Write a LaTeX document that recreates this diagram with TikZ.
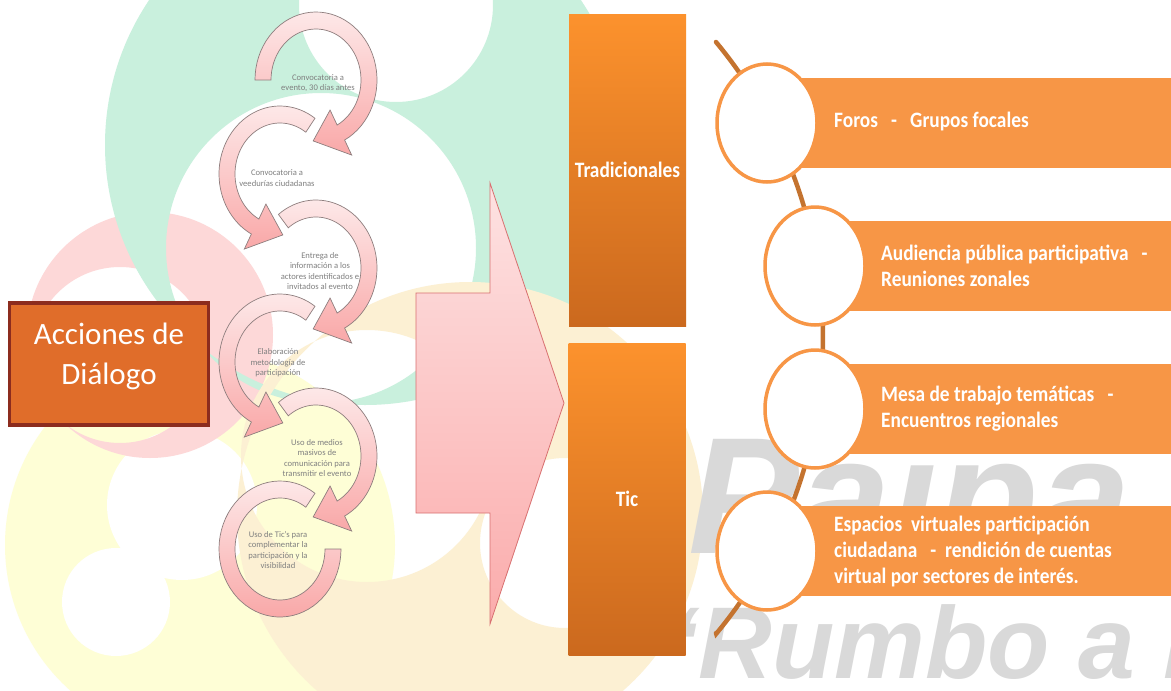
\documentclass[tikz,border=0pt]{standalone}
\usepackage{fontspec}
\setmainfont{Carlito}
\newfontfamily\condfont[FakeStretch=0.88]{Carlito}
\newfontfamily\wmfont{Liberation Sans}
\usetikzlibrary{shapes.geometric}

\definecolor{ringgreen}{HTML}{C9F0DD}
\definecolor{ringpink}{HTML}{FDD8D8}
\definecolor{ringyellow}{HTML}{FEFED6}
\definecolor{ringbeige}{HTML}{FCF0D3}
\definecolor{arrowlight}{HTML}{FDE8E8}
\definecolor{arrowdark}{HTML}{F9A8A8}
\definecolor{arrowedge}{HTML}{8E7E7E}
\definecolor{bigtop}{HTML}{FDE2E2}
\definecolor{bigbot}{HTML}{FBACAC}
\definecolor{bigedge}{HTML}{D87070}
\definecolor{acfill}{HTML}{E06D2A}
\definecolor{acedge}{HTML}{8C2C1E}
\definecolor{cattop}{HTML}{FC922D}
\definecolor{catbot}{HTML}{CB691E}
\definecolor{barfill}{HTML}{F79646}
\definecolor{linebrown}{HTML}{C4732F}
\definecolor{wmgray}{HTML}{D9D9D9}
\definecolor{smalltext}{HTML}{808080}

% circular arrow: cx, cy, start angle, end angle, tip angle (screen angles, y down)
\newcommand\circarrow[5]{%
  \path[arrowshape] plot[domain=#3:#4,samples=50] ({#1+61*cos(\x)},{#2+68*sin(\x)})
    -- ({#1+76*cos(#4)},{#2+85*sin(#4)})
    -- ({#1+54*cos(#5)},{#2+61*sin(#5)})
    -- ({#1+30*cos(#4)},{#2+34*sin(#4)})
    -- plot[domain=#4:#3,samples=50] ({#1+45*cos(\x)},{#2+51*sin(\x)}) -- cycle;}
\newcommand\circarc[4]{%
  \path[arrowshape] plot[domain=#3:#4,samples=60] ({#1+61*cos(\x)},{#2+68*sin(\x)})
    -- plot[domain=#4:#3,samples=60] ({#1+45*cos(\x)},{#2+51*sin(\x)}) -- cycle;}

\begin{document}
\begin{tikzpicture}[x=1pt,y=-1pt,
  arrowshape/.style={top color=arrowlight,bottom color=arrowdark,draw=arrowedge,line width=0.7pt},
  bigarrow/.style={top color=bigtop,bottom color=bigbot,draw=bigedge,line width=0.8pt},
  steptext/.style={text=smalltext,font=\fontsize{8.6}{10.6}\selectfont,align=center,inner sep=0pt},
  catbox/.style={rectangle,top color=cattop,bottom color=catbot,minimum width=117pt,minimum height=312pt,
    text=white,font=\condfont\bfseries\fontsize{22}{26}\selectfont,inner sep=0pt},
  barbox/.style={rectangle,fill=barfill,minimum width=420pt,minimum height=90pt,anchor=west,inner sep=0pt},
  barlabel/.style={text=white,font=\condfont\bfseries\fontsize{22}{26}\selectfont,align=left,anchor=west,inner sep=0pt},
  ell/.style={ellipse,draw=barfill,line width=3.5pt,fill=white,minimum width=100pt,minimum height=118pt,inner sep=0pt},
  conn/.style={draw=linebrown,line width=4.5pt},
  wmtext/.style={text=wmgray,font=\wmfont\bfseries\itshape,inner sep=0pt,anchor=base west}
]
\useasboundingbox (0,0) rectangle (1171,691);
\fill[white] (0,0) rectangle (1171,691);

% background rings
\begin{scope}
\clip (0,0) rectangle (1171,691);
\fill[ringyellow] (200,545) circle[radius=195pt];
\fill[white] (116,602) circle[radius=54pt];
\fill[white] (182,505) circle[radius=75pt];
\fill[ringpink,even odd rule] (150,335) circle[radius=123pt] (120,355) circle[radius=88pt];
\fill[ringgreen,even odd rule] (365,145) circle[radius=260pt] (396,5) circle[radius=97pt] (321,248) circle[radius=155pt];
\fill[ringbeige,even odd rule] (470,515) circle[radius=233pt] (367,456) circle[radius=126pt] (565,543) circle[radius=85pt];
\end{scope}

% watermark
\begin{scope}
\clip (0,0) rectangle (1171,691);
\node[wmtext,font=\wmfont\bfseries\itshape\fontsize{166}{166}\selectfont] (wmA) at (688,553) {Paipa};
\node[wmtext,font=\wmfont\bfseries\itshape\fontsize{102}{102}\selectfont] (wmB) at (670,678) {‘Rumbo a P};
\end{scope}

% big pink arrow
\path[bigarrow] (416,293) -- (490,293) -- (490,183) -- (564,403) -- (490,624) -- (490,513) -- (416,513) -- cycle;

% circular arrows (drawn bottom-up so upper heads lie on top)
\circarc{280}{549}{-55}{-360}
\circarrow{316}{456}{-128}{62}{93}
\circarrow{280}{362}{-55}{-242}{-273}
\circarrow{316}{268}{-128}{62}{93}
\circarrow{280}{174}{-55}{-242}{-273}
\circarrow{316}{80}{-180}{62}{93}

\node[steptext] (s1) at (318,83) {Convocatoria a\\evento, 30 días antes};
\node[steptext] (s2) at (277,178) {Convocatoria a\\veedurías ciudadanas};
\node[steptext] (s3) at (320,271) {Entrega de\\información a los\\actores identificados e\\invitados al evento};
\node[steptext] (s4) at (278,363) {Elaboración\\metodología de\\participación};
\node[steptext] (s5) at (317,458) {Uso de medios\\masivos de\\comunicación para\\transmitir el evento};
\node[steptext] (s6) at (278,550) {Uso de Tic's para\\complementar la\\participación y la\\visibilidad};

% main box
\node[rectangle,draw=acedge,line width=3.5pt,fill=acfill,minimum width=199pt,minimum height=122pt,inner sep=0pt] (acc) at (109,364) {};
\node[text=white,align=center,font=\fontsize{31}{40}\selectfont,inner sep=0pt] (acclabel) at (109,356) {Acciones de\\Diálogo};

% category boxes
\node[catbox] (trad) at (627.5,170) {Tradicionales};
\node[catbox] (tic) at (627,499) {Tic};

% bars
\node[barbox] (bar1) at (767,123) {};
\node[barbox] (bar2) at (815,266) {};
\node[barbox] (bar3) at (815,409) {};
\node[barbox] (bar4) at (767,551) {};

% connector arc
\coordinate (lineTop) at (716,42);
\coordinate (lineBot) at (716,633);
\draw[conn,line cap=round] (lineTop) -- plot[domain=-39.7:39.7,samples=80] ({360+463*cos(\x)},{338+463*sin(\x)}) -- (lineBot);

% circles
\node[ell] (c1) at (767,123) {};
\node[ell] (c2) at (815,266) {};
\node[ell] (c3) at (815,409) {};
\node[ell] (c4) at (767,551) {};

% bar labels
\node[barlabel] (l1) at (834,122) {Foros\ \ \ -\ \ \ Grupos focales};
\node[barlabel] (l2) at (881,266) {Audiencia pública participativa\ \ \ -\\Reuniones zonales};
\node[barlabel] (l3) at (881,409) {Mesa de trabajo temáticas\ \ \ -\\Encuentros regionales};
\node[barlabel] (l4) at (834,551) {Espacios\ \ virtuales participación\\ciudadana\ \ \ -\ \ rendición de cuentas\\virtual por sectores de interés.};
\end{tikzpicture}
\end{document}
